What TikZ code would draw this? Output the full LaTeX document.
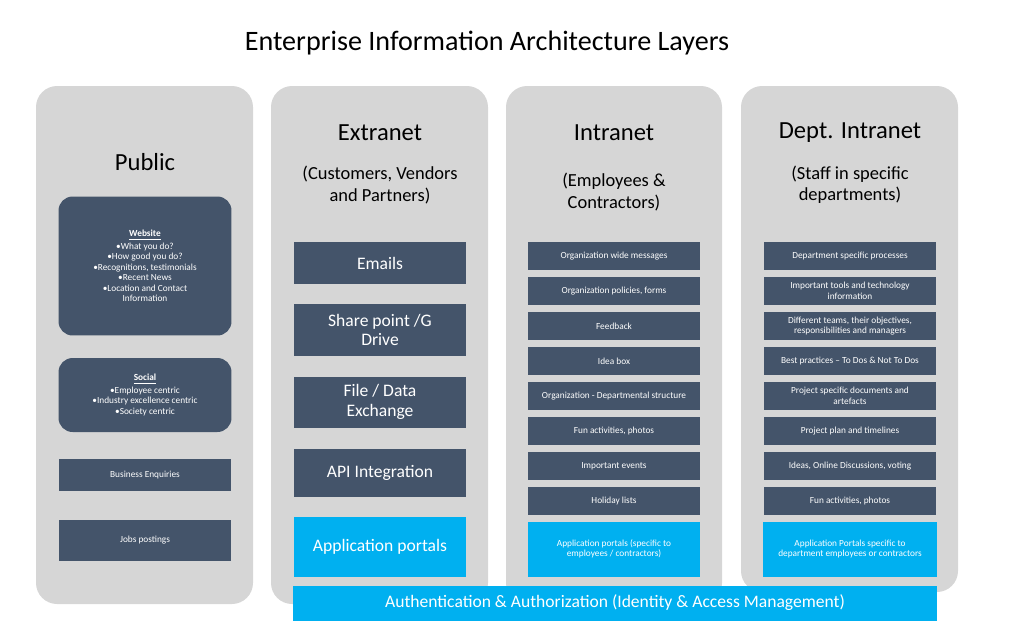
\documentclass[tikz,border=0pt]{standalone}
\usepackage{fontspec}
\setmainfont{Carlito}
\definecolor{boxdark}{HTML}{44546A}
\definecolor{boxcyan}{HTML}{00B0F0}
\definecolor{colgray}{HTML}{D6D6D6}
\begin{document}
\begin{tikzpicture}[x=0.02cm, y=-0.02cm,
        column/.style={fill=colgray, rounded corners=12pt, draw=none},
        big/.style={rectangle, fill=boxdark, text=white, align=center, minimum width=3.46cm, inner sep=1pt, font=\fontsize{10}{11}\selectfont},
        small/.style={rectangle, fill=boxdark, text=white, align=center, minimum width=3.46cm, minimum height=0.56cm, inner sep=1pt, font=\fontsize{5.3}{6}\selectfont},
        portal/.style={fill=boxcyan, text=white, align=center, inner sep=1pt},
        head/.style={font=\fontsize{14}{16}\selectfont},
        sub/.style={align=center, font=\fontsize{10.5}{12}\selectfont}
    ]
\useasboundingbox (0,0) rectangle (1024,637);

% Columns
        \fill[column] (36,86) rectangle (253,604);
        \fill[column] (271,86) rectangle (488,604);
        \fill[column] (506,86) rectangle (722,604);
        \fill[column] (741,86) rectangle (958,592);

% Title
        \node (title) at (487,43) {\fontsize{16}{18}\selectfont Enterprise Information Architecture Layers};

% Public
        \node[head] (pub) at (145,162) {Public};
        \node[small, rounded corners=8pt, minimum height=2.78cm] (web) at (145,266) {\textbf{\underline{Website}}\\[1pt]•What you do?\\•How good you do?\\•Recognitions, testimonials\\•Recent News\\•Location and Contact\\Information};
        \node[small, rounded corners=8pt, minimum height=1.48cm] (soc) at (145,395) {\textbf{\underline{Social}}\\[1pt]•Employee centric\\•Industry excellence centric\\•Society centric};
        \node[small, minimum height=0.64cm] (bus) at (145,475) {Business Enquiries};
        \node[small, minimum height=0.82cm] (jobs) at (145,540) {Jobs postings};

% Extranet
        \node[head] (ext) at (380,133) {Extranet};
        \node[sub] (extsub) at (380,185) {(Customers, Vendors\\and Partners)};
        \node[big, minimum height=0.84cm] (mail) at (380,263) {Emails};
        \node[big, minimum height=1.04cm] (share) at (380,330) {Share point /G\\Drive};
        \node[big, minimum height=1.02cm] (file) at (380,402) {File / Data\\Exchange};
        \node[big, minimum height=0.96cm] (api) at (380,473) {API Integration};
        \node[portal, minimum width=3.46cm, minimum height=1.2cm, font=\fontsize{10}{11}\selectfont] (extapp) at (380,547) {Application portals};

% Intranet
        \node[head] (intr) at (614,133) {Intranet};
        \node[sub] (intsub) at (614,192) {(Employees \&\\Contractors)};
        \foreach \t [count=\i] in {Organization wide messages, {Organization policies, forms}, Feedback, Idea box, Organization - Departmental structure, {Fun activities, photos}, Important events, Holiday lists}
            \node[small] (int\i) at (614,221+35*\i) {\t};
        \node[portal, minimum width=3.46cm, minimum height=1.1cm, font=\fontsize{5.3}{6}\selectfont] (intapp) at (614,549) {Application portals (specific to\\employees / contractors)};

% Dept. Intranet
        \node[head] (dept) at (850,133) {Dept. Intranet};
        \node[sub] (deptsub) at (850,185) {(Staff in specific\\departments)};
        \foreach \t [count=\i] in {Department specific processes, Important tools and technology\\information, {Different teams, their objectives,}\\{responsibilities and managers}, Best practices – To Dos \& Not To Dos, Project specific documents and\\artefacts, Project plan and timelines, {Ideas, Online Discussions, voting}, {Fun activities, photos}}
            \node[small] (dep\i) at (850,221+35*\i) {\t};
        \node[portal, minimum width=3.48cm, minimum height=1.1cm, font=\fontsize{5.3}{6}\selectfont] (depapp) at (850,549) {Application Portals specific to\\department employees or contractors};

% Authentication bar
        \node[portal, minimum width=12.88cm, minimum height=0.7cm, font=\fontsize{10}{11}\selectfont] (auth) at (615,603) {Authentication \& Authorization (Identity \& Access Management)};

    \end{tikzpicture}
\end{document}
